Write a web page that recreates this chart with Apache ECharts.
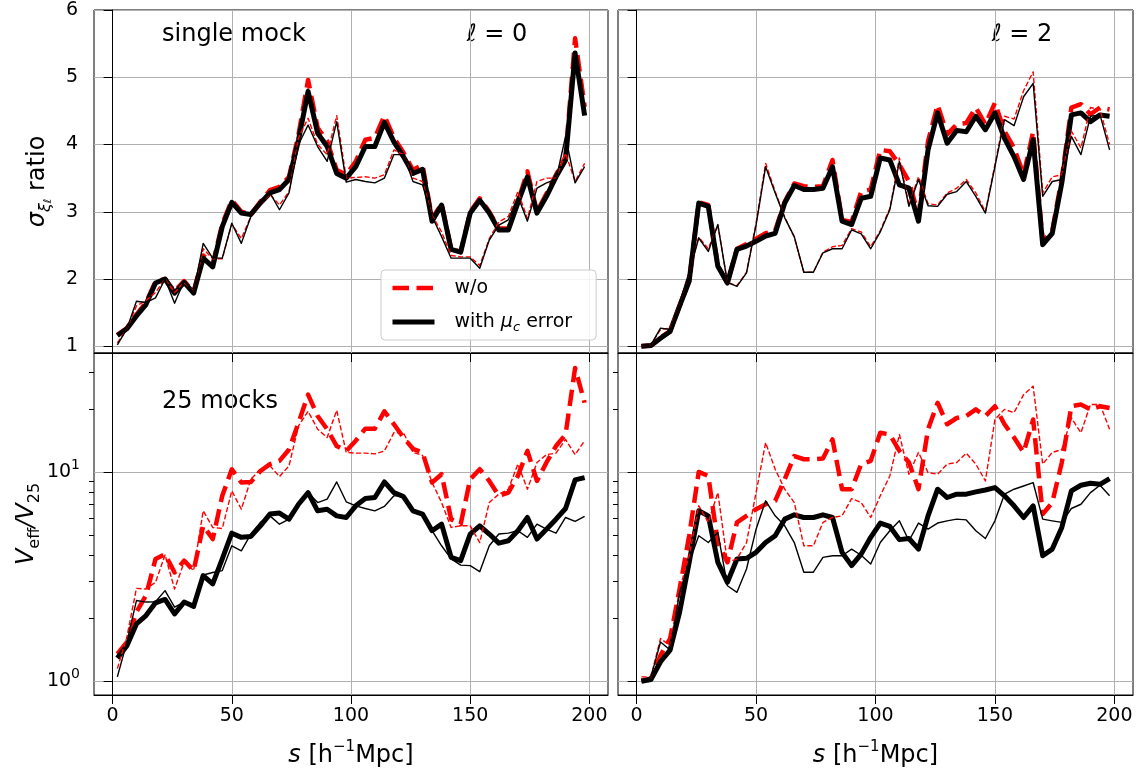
<!DOCTYPE html>
<html><head><meta charset="utf-8">
<script src="https://cdn.jsdelivr.net/npm/echarts@6/dist/echarts.min.js"></script>
<style>html,body{margin:0;padding:0;background:#fff}#c{width:1145px;height:773px}</style>
</head><body><div id="c"></div>
<script>
// separation s [h^-1 Mpc]
const s = [2,6,10,14,18,22,26,30,34,38,42,46,50,54,58,62,66,70,74,78,82,86,90,94,98,102,106,110,114,118,122,126,130,134,138,142,146,150,154,158,162,166,170,174,178,182,186,190,194,198];

// single mock, l=0
const l0SingleWoThick = [1.17,1.27,1.47,1.65,1.96,2.0,1.82,1.97,1.81,2.35,2.22,2.82,3.17,3.0,2.96,3.15,3.32,3.37,3.52,4.15,4.96,4.25,4.05,3.62,3.55,3.75,4.07,4.1,4.43,4.1,3.88,3.62,3.7,2.9,3.12,2.45,2.4,3.0,3.2,3.0,2.75,2.75,3.15,3.6,3.0,3.27,3.55,3.82,5.58,4.56];
const l0SingleWThick = [1.16,1.26,1.45,1.62,1.94,2.0,1.79,1.95,1.79,2.31,2.18,2.78,3.14,2.98,2.96,3.13,3.28,3.33,3.48,4.07,4.79,4.17,3.97,3.57,3.5,3.67,3.97,3.97,4.33,4.04,3.82,3.57,3.63,2.86,3.1,2.44,2.4,2.98,3.17,2.98,2.73,2.73,3.13,3.52,2.98,3.23,3.52,3.77,5.36,4.43];
const l0SingleWoThin = [1.05,1.26,1.6,1.68,1.8,2.0,1.8,1.95,1.82,2.45,2.3,2.3,2.82,2.6,2.93,3.1,3.26,3.1,3.3,4.1,4.39,4.0,3.85,4.43,3.5,3.51,3.52,3.5,3.55,3.92,3.85,3.5,3.45,2.95,2.7,2.35,2.33,2.33,2.2,2.6,2.85,2.93,3.3,2.9,3.45,3.5,3.5,3.87,3.45,3.72];
const l0SingleWThin = [1.02,1.26,1.67,1.65,1.72,2.0,1.64,1.97,1.8,2.53,2.31,2.31,2.83,2.53,2.93,3.1,3.28,3.03,3.28,4.0,4.29,3.97,3.75,4.34,3.44,3.48,3.45,3.43,3.5,3.85,3.85,3.45,3.4,2.93,2.63,2.31,2.31,2.31,2.16,2.58,2.8,2.88,3.23,2.86,3.35,3.43,3.48,4.12,3.43,3.67];

// single mock, l=2
const l2SingleWoThick = [1.0,1.01,1.13,1.22,1.6,1.97,3.14,3.1,2.2,1.94,2.45,2.52,2.6,2.68,2.72,3.15,3.42,3.38,3.37,3.38,3.77,2.88,2.85,3.3,3.33,3.92,3.9,3.7,3.45,2.95,4.05,4.59,4.15,4.3,4.32,4.55,4.3,4.62,4.2,3.95,3.55,4.19,2.55,2.72,3.5,4.55,4.6,4.45,4.55,4.52];
const l2SingleWThick = [1.0,1.01,1.12,1.22,1.6,1.97,3.13,3.08,2.19,1.94,2.44,2.49,2.56,2.64,2.68,3.13,3.39,3.33,3.33,3.35,3.67,2.86,2.81,3.2,3.23,3.8,3.77,3.4,3.35,2.86,3.92,4.47,4.02,4.21,4.19,4.42,4.22,4.47,4.09,3.82,3.48,4.07,2.51,2.68,3.43,4.44,4.47,4.34,4.44,4.42];
const l2SingleWoThin = [1.0,1.02,1.25,1.27,1.65,2.1,2.62,2.45,2.8,1.95,1.9,2.1,2.83,3.72,3.3,2.92,2.62,2.1,2.1,2.4,2.48,2.5,2.75,2.7,2.48,2.72,3.05,3.8,3.1,3.52,3.12,3.1,3.28,3.35,3.48,3.28,3.0,3.7,4.42,4.38,4.8,5.08,3.28,3.52,3.55,4.2,3.95,4.55,4.52,4.0];
const l2SingleWThin = [1.0,1.02,1.27,1.25,1.65,2.1,2.61,2.41,2.81,1.95,1.89,2.09,2.8,3.67,3.28,2.91,2.63,2.1,2.1,2.39,2.45,2.45,2.73,2.67,2.45,2.7,3.03,3.75,3.08,3.48,3.09,3.08,3.26,3.3,3.45,3.23,2.98,3.67,4.37,4.28,4.71,4.91,3.23,3.45,3.48,4.12,3.85,4.42,4.44,3.92];

// 25 mocks, l=0 (V_eff / V_25)
const l0MocksWoThick = [1.35,1.54,2.14,2.57,3.84,4.05,3.31,3.77,3.38,5.53,4.78,7.69,10.3,8.9,8.96,10.1,10.9,11.3,12.8,17.2,23.4,18.5,16.0,13.3,12.6,14.1,16.1,16.1,19.5,16.9,14.6,12.9,12.4,8.9,9.75,5.95,5.63,9.23,10.3,9.06,7.69,7.97,9.57,12.6,9.06,11.1,13.3,15.1,31.4,21.4];
const l0MocksWThick = [1.29,1.48,1.88,2.06,2.37,2.46,2.1,2.39,2.28,3.2,2.92,3.84,5.1,4.87,4.92,5.53,6.29,6.36,5.95,7.01,7.97,6.52,6.64,6.17,6.06,6.89,7.46,7.55,8.96,7.97,7.63,6.52,6.29,5.24,5.63,3.91,3.77,5.05,5.53,5.05,4.57,4.69,5.24,6.06,4.78,5.33,5.95,6.69,9.16,9.4];
const l0MocksWoThin = [1.15,1.63,2.78,2.76,2.97,4.01,2.76,3.7,3.38,6.52,5.43,5.37,8.12,6.64,9.23,10.3,10.7,9.5,10.7,16.6,19.5,16.0,14.6,19.7,12.4,12.3,12.3,12.2,12.6,15.4,15.4,12.4,12.0,8.9,7.14,5.43,5.53,5.53,4.6,7.14,7.83,8.27,10.9,8.27,11.1,12.1,12.3,14.3,12.1,14.1];
const l0MocksWThin = [1.05,1.54,2.43,2.39,2.4,2.71,2.26,2.39,2.3,3.22,3.31,3.38,4.44,4.2,5.05,5.74,6.17,5.63,5.95,7.14,7.97,7.14,7.41,8.96,7.2,6.89,6.69,6.52,6.84,7.69,7.69,6.45,6.17,5.24,4.44,3.84,3.59,3.57,3.34,4.44,5.05,5.1,5.24,4.87,5.63,5.33,5.1,6.06,5.8,6.13];

// 25 mocks, l=2
const l2MocksWoThick = [1.01,1.03,1.33,1.6,2.76,4.96,10.0,9.57,4.6,3.7,5.74,6.17,6.64,7.01,7.28,9.23,11.9,11.5,11.5,11.6,14.3,8.27,8.27,10.9,11.3,15.4,15.1,12.6,11.1,8.27,16.0,21.4,16.9,18.1,18.5,19.9,18.5,20.6,16.9,14.6,12.4,17.8,6.29,7.14,11.1,20.6,21.0,19.9,20.6,20.2];
const l2MocksWThick = [1.0,1.02,1.24,1.41,2.14,3.7,6.52,6.17,3.7,2.97,3.84,3.87,4.13,4.6,4.96,5.95,6.24,6.06,6.06,6.24,6.06,4.13,3.57,4.05,4.87,5.7,5.49,4.75,4.81,4.28,6.17,8.27,7.55,7.83,7.83,8.03,8.2,8.42,7.69,6.89,6.06,6.89,3.98,4.28,5.43,8.12,8.64,8.83,8.73,9.29];
const l2MocksWoThin = [1.05,1.05,1.6,1.48,2.76,3.98,6.89,5.74,7.97,3.7,3.84,4.6,7.97,13.8,10.3,8.27,7.14,4.44,4.44,5.74,6.06,6.17,7.46,7.14,6.06,7.69,9.57,15.1,9.75,12.4,9.93,9.75,10.9,11.1,12.3,10.9,9.06,17.8,19.9,19.2,23.4,25.7,10.9,12.4,12.8,18.1,15.4,21.0,21.0,16.0];
const l2MocksWThin = [1.01,1.05,1.54,1.41,2.66,3.7,4.96,4.6,5.14,2.86,2.66,3.44,5.33,7.28,6.17,5.53,4.6,3.32,3.32,3.91,3.98,3.98,4.28,4.0,3.63,4.6,5.24,5.84,4.69,5.7,5.33,5.7,5.84,5.95,5.9,5.24,4.81,5.84,7.83,8.27,8.57,8.9,5.95,5.84,5.74,6.69,7.01,7.97,8.64,7.69];

// ticks
const xTicks = [0, 50, 100, 150, 200];
const ratioTicks = [1, 2, 3, 4, 5, 6];
const logMajorTicks = [1, 10];
const logMinorTicks = [2, 3, 4, 5, 6, 7, 8, 9, 20, 30];

const FONT = 'DejaVu Sans';
const chart = echarts.init(document.getElementById('c'), null, {renderer: 'canvas'});

const grids = [
  {left: 94, top: 10, width: 514, height: 343},
  {left: 618, top: 10, width: 515, height: 343},
  {left: 94, top: 353, width: 514, height: 344},
  {left: 618, top: 353, width: 515, height: 344}
].map(g => Object.assign(g, {show: true, borderColor: '#000', borderWidth: 1, containLabel: false, backgroundColor: 'transparent'}));

const gridLine = {show: true, lineStyle: {color: '#b0b0b0', width: 1}};
const axisLineBlack = {show: true, lineStyle: {color: '#000', width: 1}};

const xAxes = [0, 1, 2, 3].map(i => ({
  type: 'value', gridIndex: i, min: -7.8, max: 207.8, position: 'bottom',
  axisLine: axisLineBlack,
  axisTick: {show: true, inside: false, length: 9, customValues: xTicks, lineStyle: {color: '#000', width: 1}},
  axisLabel: {show: i >= 2, customValues: xTicks, fontSize: 19, fontFamily: FONT, color: '#000', margin: 12,
    formatter: v => (Math.abs(v % 50) < 1e-9 ? String(v) : '')},
  splitLine: gridLine,
  name: i >= 2 ? '{i|s} [h{p|−1}Mpc]' : '',
  nameLocation: 'middle', nameGap: 45,
  nameTextStyle: {fontSize: 24, fontFamily: FONT, color: '#000', lineHeight: 32,
    rich: {i: {fontSize: 24, fontStyle: 'italic', fontFamily: FONT, lineHeight: 32, verticalAlign: 'middle'},
           p: {fontSize: 15, fontFamily: FONT, lineHeight: 14, verticalAlign: 'top'}}}
}));

function ratioAxis(i, label) {
  return {
    type: 'value', gridIndex: i, min: 0.9, max: 6, position: 'left',
    axisLine: axisLineBlack,
    axisTick: {show: true, inside: false, length: 9, customValues: ratioTicks, lineStyle: {color: '#000', width: 1}},
    axisLabel: {show: label, customValues: ratioTicks, fontSize: 19, fontFamily: FONT, color: '#000', margin: 16,
      formatter: v => (Math.abs(v - Math.round(v)) < 1e-9 ? String(Math.round(v)) : '')},
    splitLine: gridLine,
    name: label ? '{a|σ}{b|ξ}{c|ℓ} ratio' : '',
    nameLocation: 'middle', nameRotate: 90, nameGap: 40,
    nameTextStyle: {fontSize: 24, fontFamily: FONT, color: '#000', lineHeight: 32,
      rich: {a: {fontSize: 24, fontStyle: 'italic', fontFamily: FONT, lineHeight: 32, verticalAlign: 'middle'},
             b: {fontSize: 16, fontStyle: 'italic', fontFamily: FONT, lineHeight: 16, verticalAlign: 'bottom'},
             c: {fontSize: 11, fontStyle: 'italic', fontFamily: FONT, lineHeight: 7, verticalAlign: 'bottom'}}}
  };
}
function logAxis(i, label) {
  return {
    type: 'log', logBase: 10, gridIndex: i, min: 0.86, max: 37, position: 'left',
    axisLine: axisLineBlack,
    axisTick: {show: true, inside: false, length: 9, customValues: logMajorTicks, lineStyle: {color: '#000', width: 1}},
    axisLabel: {show: label, customValues: logMajorTicks, fontSize: 19, fontFamily: FONT, color: '#000', margin: 14,
      formatter: v => (Math.abs(v - 1) < 1e-6 ? '10{p|0}' : (Math.abs(v - 10) < 1e-5 ? '10{p|1}' : '')),
      rich: {p: {fontSize: 14, fontFamily: FONT, color: '#000', lineHeight: 12, verticalAlign: 'top'}}, lineHeight: 28},
    splitLine: gridLine,
    name: label ? '{v|V}{s|eff}{v|/V}{s|25}' : '',
    nameLocation: 'middle', nameRotate: 90, nameGap: 40,
    nameTextStyle: {fontSize: 24, fontFamily: FONT, color: '#000', lineHeight: 32,
      rich: {v: {fontSize: 24, fontStyle: 'italic', fontFamily: FONT, lineHeight: 32, verticalAlign: 'middle'},
             s: {fontSize: 16, fontFamily: FONT, lineHeight: 14, verticalAlign: 'bottom'}}}
  };
}
function minorLogAxis(i) {
  return {
    type: 'log', logBase: 10, gridIndex: i, min: 0.86, max: 37, position: 'left', offset: 0,
    axisLine: {show: false},
    axisTick: {show: true, inside: false, length: 5, customValues: logMinorTicks, lineStyle: {color: '#000', width: 1}},
    axisLabel: {show: false},
    splitLine: {show: false}
  };
}

const yAxes = [ratioAxis(0, true), ratioAxis(1, false), logAxis(2, true), logAxis(3, false), minorLogAxis(2), minorLogAxis(3)];

const panels = [
  [l0SingleWoThick, l0SingleWThick, l0SingleWoThin, l0SingleWThin],
  [l2SingleWoThick, l2SingleWThick, l2SingleWoThin, l2SingleWThin],
  [l0MocksWoThick, l0MocksWThick, l0MocksWoThin, l0MocksWThin],
  [l2MocksWoThick, l2MocksWThick, l2MocksWoThin, l2MocksWThin]
];
const styles = [
  {name: 'w/o', color: '#ff0000', width: 4.5, type: [16.5, 7.5]},
  {name: 'with μc error', color: '#000000', width: 5, type: 'solid'},
  {name: 'w/o (thin)', color: '#ff0000', width: 1.4, type: [5.2, 2.3]},
  {name: 'with (thin)', color: '#000000', width: 1.4, type: 'solid'}
];
const series = [];
panels.forEach((arrs, p) => {
  arrs.forEach((vals, k) => {
    const st = styles[k];
    series.push({
      type: 'line', name: st.name, xAxisIndex: p, yAxisIndex: p,
      data: s.map((x, j) => [x, vals[j]]),
      showSymbol: false, symbol: 'none', smooth: false,
      color: st.color,
      lineStyle: {color: st.color, width: st.width, type: st.type, join: 'round', cap: 'butt'},
      emphasis: {disabled: true}, silent: true, z: 2 + k
    });
  });
});

const option = {
  animation: false,
  backgroundColor: '#ffffff',
  grid: grids,
  xAxis: xAxes,
  yAxis: yAxes,
  series: series,
  legend: {
    data: ['w/o', 'with μc error'],
    left: 381, top: 270, orient: 'vertical',
    itemWidth: 42, itemHeight: 14, itemGap: 10,
    padding: [6, 24, 6, 9],
    backgroundColor: 'rgba(255,255,255,0.85)', borderColor: '#cccccc', borderWidth: 1, borderRadius: 4,
    selectedMode: false,
    itemStyle: {opacity: 0},
    lineStyle: {width: 'inherit', opacity: 1},
    textStyle: {fontSize: 19, fontFamily: FONT, color: '#000', lineHeight: 24, padding: [0, 0, 0, 15],
      rich: {m: {fontSize: 19, fontStyle: 'italic', fontFamily: FONT, lineHeight: 24, verticalAlign: 'middle'},
             c: {fontSize: 13, fontStyle: 'italic', fontFamily: FONT, lineHeight: 12, verticalAlign: 'bottom'}}},
    formatter: n => (n === 'w/o' ? 'w/o' : 'with {m|μ}{c|c} error')
  },
  graphic: [
    {type: 'text', x: 234, y: 35, silent: true, style: {text: 'single mock', fontSize: 24, fontFamily: FONT, fill: '#000', align: 'center', verticalAlign: 'middle'}},
    {type: 'text', x: 497, y: 35, silent: true, style: {text: '{i|ℓ} = 0', fontSize: 24, fontFamily: FONT, fill: '#000', align: 'center', verticalAlign: 'middle', rich: {i: {fontSize: 24, fontStyle: 'italic', fontFamily: FONT}}}},
    {type: 'text', x: 1022, y: 35, silent: true, style: {text: '{i|ℓ} = 2', fontSize: 24, fontFamily: FONT, fill: '#000', align: 'center', verticalAlign: 'middle', rich: {i: {fontSize: 24, fontStyle: 'italic', fontFamily: FONT}}}},
    {type: 'text', x: 220, y: 402, silent: true, style: {text: '25 mocks', fontSize: 24, fontFamily: FONT, fill: '#000', align: 'center', verticalAlign: 'middle'}}
  ]
};
chart.setOption(option);
</script>
</body></html>
